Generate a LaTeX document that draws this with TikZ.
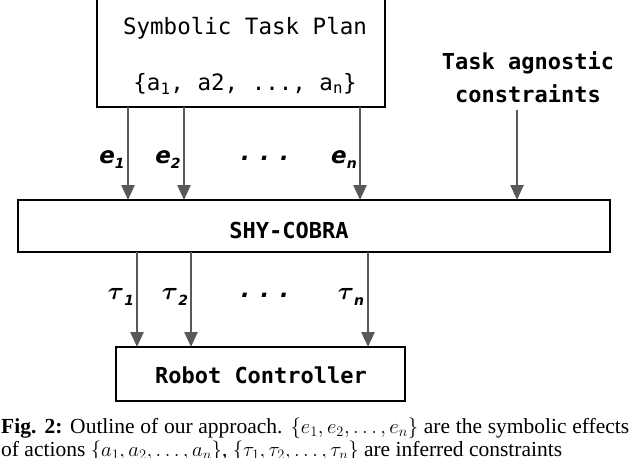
\documentclass[tikz,border=0pt]{standalone}
\usepackage{amsmath,amssymb,bm}
\usepackage{fontspec}
\setmainfont{Liberation Serif}
\newfontfamily\boxfont{DejaVu Sans Mono}
\newfontfamily\lblfont{DejaVu Sans}
\usetikzlibrary{arrows.meta}
\begin{document}
\begin{tikzpicture}[x=1pt,y=-1pt,
  box/.style={draw,line width=2.6pt},
  flow/.style={draw=black!65,line width=2.5pt,-{Triangle[length=15pt,width=13pt]}},
  lbl/.style={font=\lblfont\bfseries\itshape\fontsize{23}{24}\selectfont},
  sub/.style={font=\lblfont\bfseries\itshape\fontsize{14}{14}\selectfont},
  mono/.style={font=\boxfont\fontsize{22.5}{26}\selectfont},
  monob/.style={font=\boxfont\bfseries\fontsize{22}{33}\selectfont}]
\useasboundingbox (0,0) rectangle (630,458);
\draw[box] (97,-1) rectangle (385,107);
\node[mono] (t1) at (245,28) {Symbolic Task Plan};
\node[mono] (t2) at (245,84) {\{a\textsubscript{1}, a2, ..., a\textsubscript{n}\}};
\draw[box] (18,200) rectangle (610,252);
\node[monob] (shy) at (289,230) {SHY-COBRA};
\draw[box] (116,347) rectangle (405,401);
\node[monob] (rc) at (261,375) {Robot Controller};
\node[monob,align=center] (tac) at (528,77) {Task agnostic\\constraints};
\coordinate (a1) at (128,107); \coordinate (b1) at (128,200);
\coordinate (a2) at (184,107); \coordinate (b2) at (184,200);
\coordinate (a3) at (360,107); \coordinate (b3) at (360,200);
\coordinate (a4) at (517,110); \coordinate (b4) at (517,200);
\draw[flow] (a1)--(b1); \draw[flow] (a2)--(b2); \draw[flow] (a3)--(b3); \draw[flow] (a4)--(b4);
\node[lbl] (e1) at (112,160) {e\raisebox{-5pt}{\usetikzlibrary{}\lblfont\bfseries\itshape\fontsize{14}{14}\selectfont 1}};
\node[lbl] (e2) at (168,160) {e\raisebox{-5pt}{\lblfont\bfseries\itshape\fontsize{14}{14}\selectfont 2}};
\node[lbl] (ed) at (265,158) {. . .};
\node[lbl] (en) at (344,160) {e\raisebox{-5pt}{\lblfont\bfseries\itshape\fontsize{14}{14}\selectfont n}};
\coordinate (c1) at (137,252); \coordinate (d1) at (137,347);
\coordinate (c2) at (191,252); \coordinate (d2) at (191,347);
\coordinate (c3) at (368,252); \coordinate (d3) at (368,347);
\draw[flow] (c1)--(d1); \draw[flow] (c2)--(d2); \draw[flow] (c3)--(d3);
\node[font=\fontsize{30}{30}\selectfont] (u1) at (121,297) {$\bm{\tau}$\raisebox{-6pt}{\lblfont\bfseries\itshape\fontsize{14}{14}\selectfont 1}};
\node[font=\fontsize{30}{30}\selectfont] (u2) at (175,297) {$\bm{\tau}$\raisebox{-6pt}{\lblfont\bfseries\itshape\fontsize{14}{14}\selectfont 2}};
\node[lbl] (ud) at (265,295) {. . .};
\node[font=\fontsize{30}{30}\selectfont] (un) at (351,297) {$\bm{\tau}$\raisebox{-6pt}{\lblfont\bfseries\itshape\fontsize{14}{14}\selectfont n}};
\node[anchor=north west,inner sep=0pt,text width=628pt,align=justify,font=\fontsize{21.5}{22.5}\selectfont] (cap) at (1,418)
{\textbf{Fig. 2:} Outline of our approach. $\{e_1,e_2,\dots,e_n\}$ are the symbolic effects of actions $\{a_1,a_2,\dots,a_n\}$, $\{\tau_1,\tau_2,\dots,\tau_n\}$ are inferred constraints};
\end{tikzpicture}
\end{document}
